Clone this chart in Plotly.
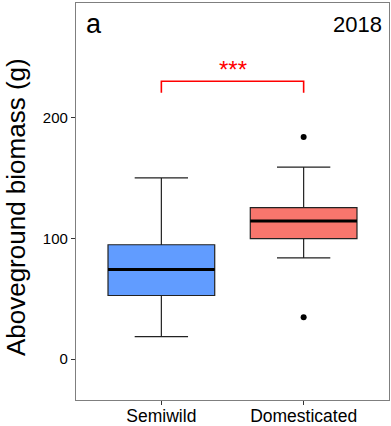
import plotly.graph_objects as go

categories = ["Semiwild", "Domesticated"]
q1 = [52.7, 99.7]
median = [74.2, 114.3]
q3 = [94.7, 125.4]
lower_whisker = [18.7, 83.9]
upper_whisker = [150.0, 159.0]
fill_colors = ["#619CFF", "#F8766D"]
outlier_group = [1, 1]
outlier_values = [183.9, 34.7]
y_ticks = [0, 100, 200]
sig_label = "***"
sig_y = 230.0
sig_leg = 220.5
panel_label = "a"
year_label = "2018"
y_title = "Aboveground biomass (g)"

BOX_W = 0.75
pos = list(range(len(categories)))

fig = go.Figure()
for i, c in enumerate(categories):
    fig.add_trace(go.Box(
        x=[pos[i]], q1=[q1[i]], median=[median[i]], q3=[q3[i]],
        lowerfence=[lower_whisker[i]], upperfence=[upper_whisker[i]],
        width=BOX_W, fillcolor=fill_colors[i],
        line=dict(color="#222222", width=1.2),
        boxpoints=False, showlegend=False, name=c,
    ))
    # thick median line
    fig.add_trace(go.Scatter(
        x=[pos[i] - BOX_W / 2, pos[i] + BOX_W / 2], y=[median[i], median[i]],
        mode="lines", line=dict(color="black", width=3), showlegend=False,
        hoverinfo="skip",
    ))

fig.add_trace(go.Scatter(
    x=outlier_group, y=outlier_values, mode="markers",
    marker=dict(color="black", size=6), showlegend=False,
))

# significance bracket
fig.add_trace(go.Scatter(
    x=[pos[0], pos[0], pos[1], pos[1]], y=[sig_leg, sig_y, sig_y, sig_leg],
    mode="lines", line=dict(color="#FF0000", width=1.6), showlegend=False,
    hoverinfo="skip",
))
fig.add_annotation(x=(pos[0] + pos[1]) / 2, y=sig_y, text=sig_label,
                   showarrow=False, yanchor="bottom", yshift=-4,
                   font=dict(color="#FF0000", size=24, family="Liberation Sans"))

fig.add_annotation(xref="paper", yref="paper", x=0, y=1, text=panel_label,
                   showarrow=False, xanchor="left", yanchor="top",
                   xshift=8, yshift=-4,
                   font=dict(size=27, color="black", family="Liberation Sans"))
fig.add_annotation(xref="paper", yref="paper", x=1, y=1, text=year_label,
                   showarrow=False, xanchor="right", yanchor="top",
                   xshift=-5, yshift=-7,
                   font=dict(size=22, color="black", family="Liberation Sans"))

# y-axis title
fig.add_annotation(xref="paper", yref="paper", x=0, y=0.486, text=y_title,
                   showarrow=False, textangle=-90, xanchor="center",
                   yanchor="middle", xshift=-60,
                   font=dict(size=26, color="black", family="Liberation Sans"))

fig.update_layout(
    width=391, height=426,
    margin=dict(l=75.5, r=2, t=3, b=26, autoexpand=False),
    plot_bgcolor="white", paper_bgcolor="white",
    font=dict(family="Liberation Sans", color="black"),
)
fig.update_xaxes(
    range=[-0.6, 1.6], tickvals=pos, ticktext=categories,
    showgrid=False, zeroline=False, automargin=False,
    showline=True, linecolor="#7f7f7f", linewidth=1.3, mirror=True,
    ticks="outside", ticklen=4, tickcolor="#333333", tickwidth=1,
    tickfont=dict(size=17.5, color="black"), ticklabelstandoff=-4,
)
fig.update_yaxes(
    range=[-33.8, 294.8], tickvals=y_ticks,
    showgrid=False, zeroline=False, automargin=False,
    showline=True, linecolor="#7f7f7f", linewidth=1.3, mirror=True,
    ticks="outside", ticklen=4, tickcolor="#333333", tickwidth=1,
    tickfont=dict(size=15, color="black"),
)

fig.write_html(
    "out.html",
    config={"displayModeBar": False},
    post_script="document.body.style.margin='0';document.body.style.padding='0';",
)
